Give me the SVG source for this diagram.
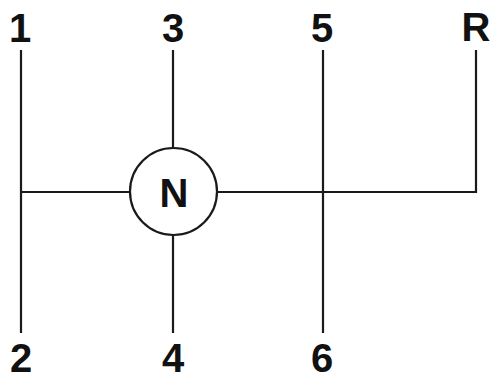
<svg xmlns="http://www.w3.org/2000/svg" width="490" height="375" viewBox="0 0 490 375">
<style>
.ln{stroke:#1a1a1a;stroke-width:2.2;fill:none}
.lb{font-family:"Liberation Sans",Arial,sans-serif;font-weight:bold;font-size:40px;fill:#111;text-anchor:middle}
</style>
<rect width="490" height="375" fill="#fff"/>
<g id="connectors">
<path class="ln" d="M21,50V333"/>
<path class="ln" d="M21,192H130"/>
<path class="ln" d="M173,50V148"/>
<path class="ln" d="M173,235V333"/>
<path class="ln" d="M217,192H476V50"/>
<path class="ln" d="M323,50V333"/>
</g>
<g id="node-N">
<circle class="ln" cx="173.5" cy="191.5" r="43.5" fill="#fff"/>
<text class="lb" x="174" y="207">N</text>
</g>
<g id="label-1"><text class="lb" x="20" y="42">1</text></g>
<g id="label-3"><text class="lb" x="173" y="42">3</text></g>
<g id="label-5"><text class="lb" x="322" y="42">5</text></g>
<g id="label-R"><text class="lb" x="476" y="41">R</text></g>
<g id="label-2"><text class="lb" x="21" y="372">2</text></g>
<g id="label-4"><text class="lb" x="173" y="372">4</text></g>
<g id="label-6"><text class="lb" x="322" y="372">6</text></g>
</svg>
